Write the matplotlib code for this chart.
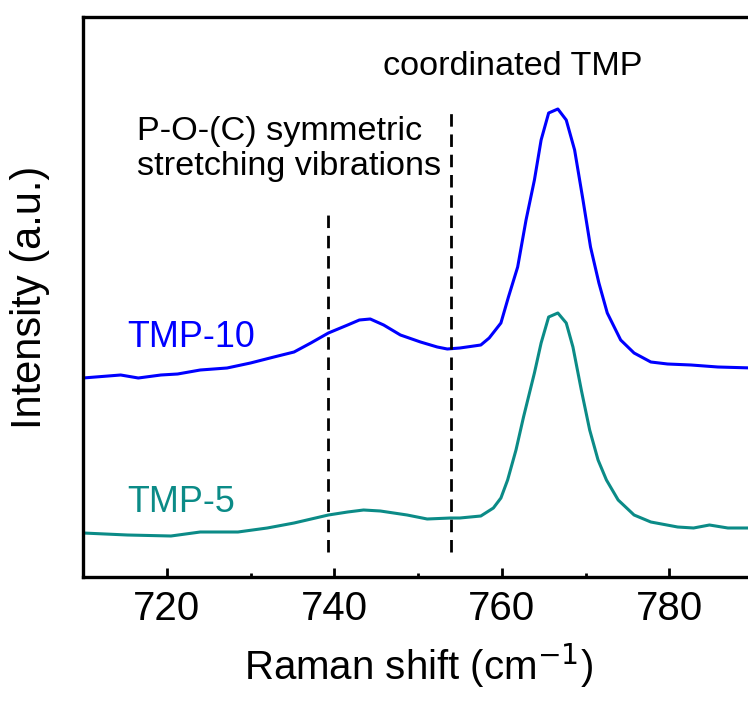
import matplotlib
matplotlib.use('Agg')
import matplotlib.pyplot as plt
from matplotlib.ticker import MultipleLocator

plt.rcParams['font.family'] = ['Liberation Sans', 'DejaVu Sans']

# Raman shift (cm-1) and intensity (a.u.)
x_tmp10 = [710, 714.5, 716.6, 719.3, 721.3, 724, 727.2, 730, 732.8, 735.2,
           737.2, 739.3, 741.6, 743, 744.3, 745.9, 747.9, 750.3, 752.3, 753.5,
           755, 757.5, 758.5, 759.9, 760.8, 761.9, 762.9, 763.9, 764.7, 765.6,
           766.7, 767.7, 768.7, 769.7, 770.6, 771.6, 772.6, 774.2, 775.8, 777.8,
           779.8, 782.6, 785.8, 790]
i_tmp10 = [199, 202, 199, 202, 203, 207, 209, 214, 220, 225,
           234, 244, 252, 257, 258, 252, 242, 235, 230, 228,
           229, 232, 239, 254, 280, 310, 357, 397, 437, 464,
           468, 457, 427, 377, 330, 294, 264, 237, 224, 215,
           213, 212, 210, 209]

x_tmp5 = [710, 715.3, 720.5, 724, 728.5, 732, 735.2, 739.3, 741.6, 743.5,
          745.5, 748.7, 751.1, 753.9, 755, 757.5, 759, 759.9, 760.7, 761.7,
          762.6, 763.9, 764.7, 765.6, 766.7, 767.7, 768.5, 769.5, 770.5, 771.5,
          772.5, 773.9, 775.8, 777.8, 781, 782.9, 784.8, 787, 790]
i_tmp5 = [44, 42, 41, 45, 45, 49, 54, 62, 65, 67,
          66, 62, 58, 59, 59, 61, 69, 79, 97, 127,
          160, 204, 234, 260, 264, 254, 230, 187, 147, 117,
          97, 77, 62, 55, 50, 49, 52, 49, 49]

# dashed marker lines: position, top of line
marks_x = [739.3, 753.9]
marks_top = [364, 470]

blue = '#0000ff'
teal = '#0b8b87'

fig = plt.figure(figsize=(7.48, 7.04), dpi=100)
# right edge of the axes sits just past the picture edge, like the reference
ax = fig.add_axes([83/748, 127/704, 670/748, 560/704])

ax.plot(x_tmp10, i_tmp10, color=blue, lw=2.2)
ax.plot(x_tmp5, i_tmp5, color=teal, lw=2.2)

for xm, top in zip(marks_x, marks_top):
    ax.plot([xm, xm], [25, top], color='black', lw=2, linestyle=(0, (4.5, 2.8)))

ax.set_xlim(710, 790)
ax.set_ylim(0, 560)
ax.set_yticks([])
ax.xaxis.set_major_locator(MultipleLocator(20))
ax.xaxis.set_minor_locator(MultipleLocator(10))
ax.tick_params(axis='x', which='major', direction='in', length=6.5, width=2,
               labelsize=29, pad=9)
ax.tick_params(axis='x', which='minor', direction='in', length=3, width=2)
for s in ['left', 'bottom', 'top']:
    ax.spines[s].set_linewidth(2.4)
ax.spines['right'].set_visible(False)

ax.set_xlabel('Raman shift (cm$^{-1}$)', fontsize=29, labelpad=10)
ax.set_ylabel('Intensity (a.u.)', fontsize=30, labelpad=24)

ax.text(715.3, 230, 'TMP-10', color=blue, fontsize=25.8)
ax.text(715.3, 65, 'TMP-5', color=teal, fontsize=25.8)
ax.text(716.5, 395, 'P-O-(C) symmetric\nstretching vibrations', fontsize=24.7,
        linespacing=1.15, va='bottom')
ax.text(745.8, 495, 'coordinated TMP', fontsize=24.7, va='bottom')

fig.savefig('out.png', dpi=100)
